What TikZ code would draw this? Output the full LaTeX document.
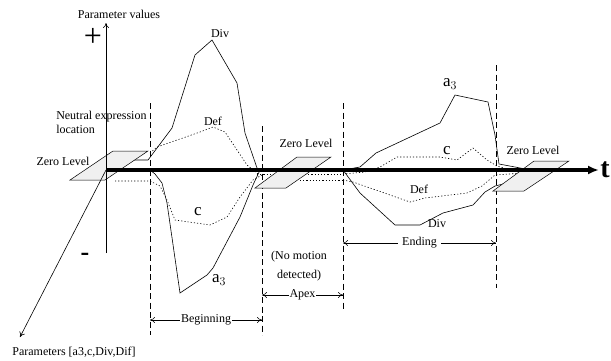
\documentclass[tikz,border=0pt]{standalone}
\usepackage{fontspec}
\setmainfont{Liberation Serif}
\usetikzlibrary{arrows.meta, positioning}
\newcommand{\curvefont}{\fontsize{17}{17}\selectfont}

\begin{document}
\begin{tikzpicture}[
                x=1pt, y=-1pt,
                > = {To[length=5pt,width=6pt]}, % arrow head style
                line width=0.5pt,
                font=\fontsize{12}{14}\selectfont
                ]
                \tikzstyle{plane}=[draw, fill=gray!12, line width=0.5pt]
                \tikzstyle{bound}=[dash pattern=on 6pt off 3.5pt, line width=0.6pt]
                \tikzstyle{span}=[<->, line width=0.5pt]
                \tikzstyle{param}=[line width=0.6pt]
                \tikzstyle{paramdot}=[dash pattern=on 1.2pt off 2pt, line width=0.6pt]
                \tikzstyle{biglbl}=[font=\curvefont, inner sep=0pt]
                \useasboundingbox (0,0) rectangle (611,360);

                % axes end points
                \coordinate (o) at (106,170);
                \coordinate (vtop) at (106,23);
                \coordinate (vbot) at (106,253);
                \coordinate (dend) at (20,337);
                \coordinate (tend) at (599,170);

                % phase boundaries
                \coordinate (s0t) at (150,103); \coordinate (s0b) at (150,335);
                \coordinate (s1t) at (262,126); \coordinate (s1b) at (262,335);
                \coordinate (s2t) at (343,103); \coordinate (s2b) at (343,312);
                \coordinate (s3t) at (496,65);  \coordinate (s3b) at (496,288);
                \draw[bound] (s0t) -- (s0b);
                \draw[bound] (s1t) -- (s1b);
                \draw[bound] (s2t) -- (s2b);
                \draw[bound] (s3t) -- (s3b);

                % parameter curves, beginning
                \draw[param] (128,160) -- (148,160) -- (172,128) -- (195,55) -- (212,40)
                    -- (237,83) -- (245,133) -- (257,168) -- (262,171);
                \draw[paramdot] (150,153) -- (157,147) -- (200,132) -- (213,127) -- (225,132)
                    -- (237,150) -- (247,165) -- (258,174);
                \draw[paramdot] (115,181) -- (150,181) -- (160,186) -- (167,200) -- (175,220)
                    -- (210,225) -- (227,217) -- (240,197) -- (253,180) -- (262,175);
                \draw[param] (150,170) -- (155,174) -- (162,183) -- (167,203) -- (180,293)
                    -- (207,275) -- (213,268) -- (240,217) -- (253,185) -- (260,170);

                % apex
                \draw[paramdot] (257,174) -- (343,174);
                \draw[paramdot] (300,180) -- (343,180);

                % ending
                \draw[param] (343,170) -- (360,167) -- (376,153) -- (440,123) -- (455,95)
                    -- (488,102) -- (495,135) -- (499,164) -- (515,167) -- (530,170);
                \draw[paramdot] (343,174) -- (365,172) -- (380,167) -- (397,157) -- (440,157)
                    -- (457,160) -- (473,148) -- (487,160) -- (497,166) -- (510,170);
                \draw[paramdot] (343,180) -- (353,182) -- (410,202) -- (425,198) -- (467,193)
                    -- (482,186) -- (495,175) -- (523,173);
                \draw[param] (343,170) -- (360,193) -- (395,225) -- (420,225) -- (443,213)
                    -- (473,205) -- (485,192) -- (495,186) -- (507,183) -- (525,178);

                % zero level planes
                \draw[plane] (70,180) -- (105,180) -- (148,151) -- (113,151) -- cycle;
                \draw[plane] (255,188) -- (286,188) -- (331,157) -- (297,157) -- cycle;
                \draw[plane] (493,191) -- (524,191) -- (569,161) -- (534,161) -- cycle;

                % axes
                \draw[->, line width=0.6pt] (vbot) -- (vtop);
                \draw[->, line width=0.6pt] (o) -- (dend);
                \draw[-{Latex[length=11pt,width=9pt]}, line width=3.5pt] (o) -- (tend);

                \node (pv) at (119,14) {Parameter values};
                \node (plus) at (93,37) {\fontsize{32}{32}\selectfont +};
                \node (minus) at (85,257) {\fontsize{26}{26}\selectfont\bfseries -};
                \node (t) at (605,170) {\fontsize{28}{28}\selectfont\bfseries t};
                \node (pa) at (74,352) {Parameters [a3,c,Div,Dif]};
                \node[align=left, anchor=north west, inner sep=0pt] (nel) at (56,111)
                    {Neutral expression\\location};

                \node (zl0) at (63,161) {Zero Level};
                \node (zl1) at (306,143) {Zero Level};
                \node (zl2) at (533,150) {Zero Level};

                \node (div0) at (220,34) {Div};
                \node (def0) at (213,121) {Def};
                \node[biglbl] (c0) at (198,212) {c};
                \node[biglbl] (a0) at (219,280) {a$_3$};
                \node[biglbl] (a1) at (450,84) {a$_3$};
                \node[biglbl] (c1) at (447,151) {c};
                \node (def1) at (419,189) {Def};
                \node (div1) at (437,224) {Div};

                % phases
                \coordinate (b0) at (150,320); \coordinate (b1) at (262,320);
                \coordinate (x0) at (262,295); \coordinate (x1) at (343,295);
                \coordinate (e0) at (343,243); \coordinate (e1) at (496,243);
                \draw[span] (b0) -- node[fill=white, inner sep=1pt] {Beginning} (b1);
                \draw[span] (x0) -- node[fill=white, inner sep=1pt] {Apex} (x1);
                \draw[span] (e0) -- node[fill=white, inner xsep=4pt, inner ysep=1pt] {Ending} (e1);
                \node[align=center, font=\fontsize{12}{19}\selectfont] (nm) at (299,266)
                    {(No motion\\detected)};
            \end{tikzpicture}
\end{document}
